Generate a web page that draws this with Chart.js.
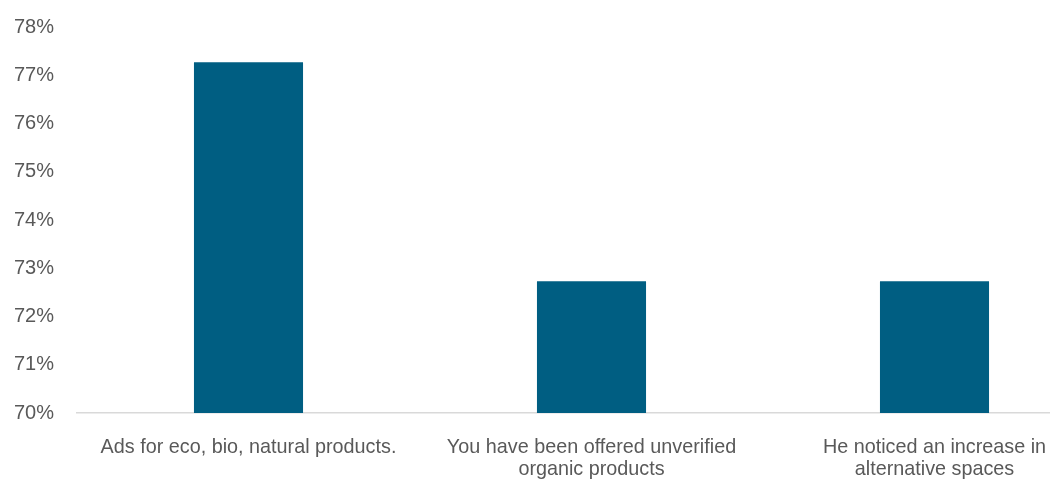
<!DOCTYPE html>
<html>
<head>
<meta charset="utf-8">
<script src="https://cdn.jsdelivr.net/npm/chart.js@4"></script>
<style>
  html, body { margin: 0; padding: 0; background: #fff; overflow: hidden; }
  #wrap { width: 1110px; height: 481px; }
</style>
</head>
<body>
<div id="wrap"><canvas id="chartCanvas"></canvas></div>
<script>
/* Survey answers, share of respondents (%) */
const categories = [
  'Ads for eco, bio, natural products.',
  ['You have been offered unverified', 'organic products'],
  ['He noticed an increase in', 'alternative spaces']
];
const shares = [77.27, 72.73, 72.73];

const yMin = 70, yMax = 78;

const ctx = document.getElementById('chartCanvas').getContext('2d');

new Chart(ctx, {
  type: 'bar',
  data: {
    labels: categories,
    datasets: [{
      data: shares,
      backgroundColor: '#005e82',
      barPercentage: 1,
      categoryPercentage: 0.318
    }]
  },
  options: {
    responsive: true,
    maintainAspectRatio: false,
    animation: false,
    layout: { padding: { left: 12, right: 4, top: 6, bottom: 0 } },
    plugins: { legend: { display: false }, tooltip: { enabled: false } },
    scales: {
      x: {
        grid: { display: false },
        border: { display: true, color: '#d9d9d9', width: 1.5 },
        ticks: {
          color: '#595959',
          font: { family: 'Liberation Sans, Arial, sans-serif', size: 19.8, lineHeight: 1.1 },
          padding: 16,
          maxRotation: 0,
          autoSkip: false
        },
        afterFit(scale) { scale.height = 68; }
      },
      y: {
        min: yMin,
        max: yMax,
        grid: { display: false },
        border: { display: false },
        ticks: {
          stepSize: 1,
          color: '#595959',
          font: { family: 'Liberation Sans, Arial, sans-serif', size: 20 },
          padding: 15,
          callback: v => v + '%'
        },
        afterFit(scale) { scale.width = 65; }
      }
    }
  }
});
</script>
</body>
</html>
